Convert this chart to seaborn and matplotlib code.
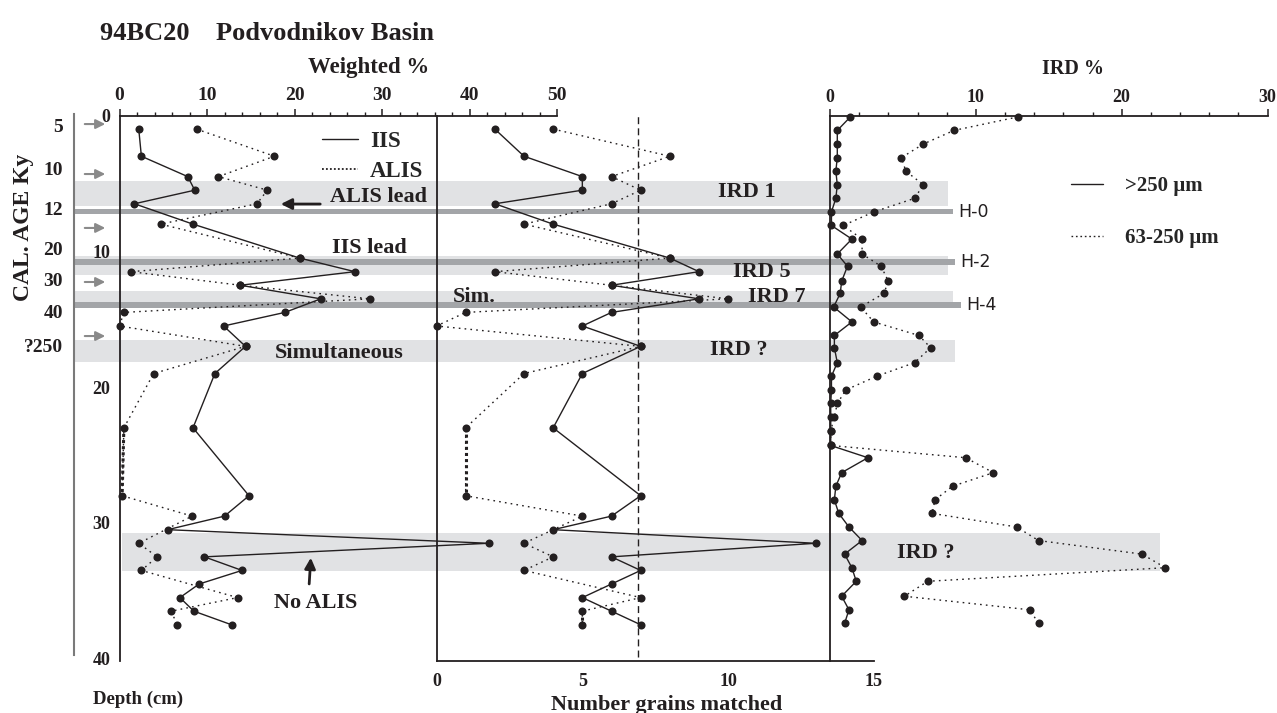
import numpy as np
import pandas as pd
import seaborn as sns
import matplotlib.pyplot as plt
from matplotlib.lines import Line2D
from matplotlib.ticker import MultipleLocator, FixedLocator, NullFormatter

sns.set_style('white')
plt.rcParams['font.family'] = ['Liberation Serif', 'DejaVu Serif']
plt.rcParams['font.weight'] = 'bold'

# ---- data ----
# weighted % and grain-count samples (depth in cm)
wt_depth = [1, 3, 4.5, 5.5, 6.5, 8, 10.5, 11.5, 12.5, 13.5, 14.5, 15.5, 17, 19,
            23, 28, 29.5, 30.5, 31.5, 32.5, 33.5, 34.5, 35.5, 36.5, 37.5]
wt_iis = [2.2, 2.5, 7.8, 8.6, 1.7, 8.4, 20.6, 26.9, 13.8, 23.0, 18.9, 11.9, 14.4, 10.9,
          8.4, 14.8, 12.0, 5.5, 42.2, 9.7, 14.0, 9.1, 6.9, 8.5, 12.8]
wt_alis = [8.8, 17.7, 11.3, 16.9, 15.7, 4.7, 20.6, 1.3, 13.8, 28.6, 0.5, 0.0, 14.4, 3.9,
           0.5, 0.3, 8.3, np.nan, 2.2, 4.3, 2.5, np.nan, 13.5, 5.9, 6.6]
grains_iis = [2, 3, 5, 5, 2, 4, 8, 9, 6, 9, 6, 5, 7, 5, 4, 7, 6, 4, 13, 6, 7, 6, 5, 6, 7]
grains_alis = [4, 8, 6, 7, 6, 3, 8, 2, 6, 10, 1, 0, 7, 3, 1, 1, 5, np.nan, 3, 4, 3, np.nan, 7, 5, 5]
grain_cutoff = 6.9

# IRD samples
ird_depth = [0.1, 1.1, 2.1, 3.1, 4.1, 5.1, 6.1, 7.1, 8.1, 9.1, 10.2, 11.1, 12.2, 13.1,
             14.1, 15.2, 16.2, 17.1, 18.2, 19.2, 20.2, 21.2, 22.2, 23.2, 24.3, 25.2,
             26.3, 27.3, 28.3, 29.3, 30.3, 31.3, 32.3, 33.3, 34.3, 35.4, 36.4, 37.4]
ird_coarse = [1.4, 0.5, 0.5, 0.5, 0.4, 0.5, 0.4, 0.1, 0.1, 1.5, 0.5, 1.2, 0.8, 0.7,
              0.25, 1.5, 0.3, 0.3, 0.5, 0.1, 0.1, 0.05, 0.05, 0.05, 0.05, 2.6,
              0.8, 0.4, 0.3, 0.6, 1.3, 2.2, 1.0, 1.5, 1.8, 0.8, 1.3, 1.0]
ird_fine = [12.9, 8.5, 6.4, 4.9, 5.2, 6.4, 5.8, 3.0, 0.9, 2.2, 2.2, 3.5, 4.0, 3.7,
            2.1, 3.0, 6.1, 6.9, 5.8, 3.2, 1.1, 0.5, 0.3, 0.05, 0.05, 9.3,
            11.2, 8.4, 7.2, 7.0, 12.8, 14.3, 21.4, 23.0, 6.7, 5.1, 13.7, 14.3]

# calendar age scale
age_labels = ['5', '10', '12', '20', '30', '40', '?250']
age_depth = [0.7, 3.89, 6.83, 9.83, 12.11, 14.4, 16.95]
age_minor = [1.24, 1.8, 2.42, 2.96, 4.82, 7.94, 8.19, 8.43, 8.63, 8.8,
             11.02, 13.34, 15.55, 17.99, 19.03]
arrow_depth = [0.63, 4.31, 8.28, 12.26, 16.24]

# IRD / Heinrich intervals (depth cm)
band_top = [4.82, 10.35, 12.96, 16.53, 30.74]
band_bot = [6.64, 11.78, 14.08, 18.13, 33.52]
h_names = ['H-0', 'H-2', 'H-4']
h_depth = [7.08, 10.77, 13.98]

# ---- layout (pixels) ----
W, H = 1277, 713
ink = '#231f20'
y_top, y_bot = 115.5, 661
depth_max = (y_bot - y_top) / 13.58
bottom = 1 - y_bot / H
height = (y_bot - y_top) / H
band_left = [73, 73, 73, 73, 122]
band_right = [948, 948, 953, 955, 1160]
h_right = [953, 955, 961]

fig = plt.figure(figsize=(W / 100, H / 100), dpi=100)

# background axes in pixel x / depth y: bands, age scale, notes
ax_bg = fig.add_axes([0, bottom, 1, height])
ax_bg.set_xlim(0, W)
ax_bg.set_ylim(depth_max, 0)
top_arr, bot_arr = np.array(band_top), np.array(band_bot)
ax_bg.barh((top_arr + bot_arr) / 2, np.array(band_right) - np.array(band_left),
           left=band_left, height=bot_arr - top_arr, color='#e1e2e4', lw=0)
ax_bg.barh(h_depth, np.array(h_right) - 73, left=73, height=0.42, color='#a3a5a8', lw=0)
for nm, d, r in zip(h_names, h_depth, h_right):
    ax_bg.text(r + 5, d, nm, family='DejaVu Sans', weight='normal', fontsize=12.5,
               color=ink, va='center', ha='left')

for s in ['top', 'right', 'bottom']:
    ax_bg.spines[s].set_visible(False)
ax_bg.spines['left'].set_position(('data', 74))
ax_bg.spines['left'].set_bounds(-0.1, 39.7)
ax_bg.spines['left'].set_color('#7a7a7a')
ax_bg.spines['left'].set_linewidth(1.5)
ax_bg.set_xticks([])
ax_bg.set_yticks(age_depth)
ax_bg.set_yticklabels(age_labels)
ax_bg.yaxis.set_minor_locator(FixedLocator(age_minor))
ax_bg.tick_params(axis='y', which='major', direction='in', length=6.5, width=1.1,
                  color='#444444', labelsize=14, labelcolor=ink, pad=8)
ax_bg.tick_params(axis='y', which='minor', direction='in', length=3.5, width=1.0,
                  color='#444444')
for d in arrow_depth:
    ax_bg.annotate('', xy=(108, d), xytext=(82, d),
                   arrowprops=dict(arrowstyle='-|>', color='#8a8a8a', lw=1.5, mutation_scale=14))

notes = [('ALIS lead', 330, 5.98), ('IIS lead', 332, 9.78), ('Simultaneous', 275, 17.51),
         ('Sim.', 453, 13.39), ('IRD 1', 718, 5.66), ('IRD 5', 733, 11.5),
         ('IRD 7', 748, 13.39), ('IRD ?', 710, 17.27), ('IRD ?', 897, 32.24),
         ('No ALIS', 274, 35.92)]
for txt, x, d in notes:
    ax_bg.text(x, d, txt, fontsize=16, color=ink, ha='left', va='center')
ax_bg.annotate('', xy=(278, 6.52), xytext=(323, 6.52),
               arrowprops=dict(arrowstyle='-|>', color=ink, lw=2, mutation_scale=16))
ax_bg.annotate('', xy=(311, 32.36), xytext=(309, 34.7),
               arrowprops=dict(arrowstyle='-|>', color=ink, lw=2, mutation_scale=16))


def profile(ax, x, y, dotted):
    df = pd.DataFrame({'val': x, 'depth': y}).dropna()
    ls = (0, (1.2, 3)) if dotted else '-'
    sns.lineplot(data=df, x='val', y='depth', sort=False, estimator=None, ax=ax,
                 color=ink, lw=1, linestyle=ls, marker='o', markersize=5.8,
                 markeredgewidth=0, clip_on=False)
    ax.set_xlabel('')
    ax.set_ylabel('')


def frame(ax, xmax, shown):
    ax.set_facecolor('none')
    ax.set_xlim(0, xmax)
    ax.set_ylim(depth_max, 0)
    for s in ['top', 'right', 'bottom', 'left']:
        ax.spines[s].set_visible(s in shown)
        ax.spines[s].set_color(ink)
        ax.spines[s].set_linewidth(1.3)


# IRD %
ax_i = fig.add_axes([830 / W, bottom, 437.5 / W, height])
profile(ax_i, ird_coarse, ird_depth, False)
profile(ax_i, ird_fine, ird_depth, True)
frame(ax_i, 30, ['left', 'top'])
ax_i.xaxis.set_ticks_position('top')
ax_i.xaxis.set_major_locator(MultipleLocator(10))
ax_i.xaxis.set_minor_locator(MultipleLocator(2))
ax_i.yaxis.set_major_locator(MultipleLocator(5))
ax_i.yaxis.set_minor_locator(MultipleLocator(1))
ax_i.yaxis.set_major_formatter(NullFormatter())
ax_i.tick_params(axis='x', which='major', length=5, width=1.1, labelsize=13, pad=2, colors=ink)
ax_i.tick_params(axis='x', which='minor', length=3, width=1.0, colors=ink)
ax_i.tick_params(axis='y', which='both', length=5.5, width=1.0, colors=ink)
ax_i.legend([Line2D([], [], color=ink, lw=1), Line2D([], [], color=ink, lw=1, ls=(0, (1.2, 2)))],
            ['>250 µm', '63-250 µm'], loc='upper left', bbox_to_anchor=(1071 / W, 1 - 176 / H),
            bbox_transform=fig.transFigure, frameon=False, fontsize=15, handlelength=1.55,
            handletextpad=1.05, labelspacing=1.55, borderpad=0, borderaxespad=0)

# number of grains matched
ax_n = fig.add_axes([436.5 / W, bottom, 437.5 / W, height])
ax_n.axvline(grain_cutoff, ymin=0.008, ymax=1, color=ink, lw=1, ls=(0, (5, 3)))
profile(ax_n, grains_iis, wt_depth, False)
profile(ax_n, grains_alis, wt_depth, True)
ax_n.plot(grains_alis[14:16], wt_depth[14:16], color=ink, lw=2.2, ls=(0, (1, 1)))
ax_n.plot(grains_alis[23:25], wt_depth[23:25], color=ink, lw=2.2, ls=(0, (1, 1)))
frame(ax_n, 15, ['left', 'bottom'])
ax_n.xaxis.set_major_locator(MultipleLocator(5))
ax_n.xaxis.set_minor_locator(MultipleLocator(1))
ax_n.yaxis.set_major_locator(MultipleLocator(5))
ax_n.yaxis.set_minor_locator(MultipleLocator(1))
ax_n.yaxis.set_major_formatter(NullFormatter())
ax_n.tick_params(axis='x', which='major', length=5, width=1.1, labelsize=13, pad=4, colors=ink)
ax_n.tick_params(axis='x', which='minor', length=3.5, width=1.0, colors=ink)
ax_n.tick_params(axis='y', which='major', length=6, width=1.1, colors=ink)
ax_n.tick_params(axis='y', which='minor', length=4.5, width=1.0, colors=ink)

# weighted %
ax_w = fig.add_axes([119.5 / W, bottom, 437.5 / W, height])
profile(ax_w, wt_iis, wt_depth, False)
profile(ax_w, wt_alis, wt_depth, True)
ax_w.plot(wt_alis[14:16], wt_depth[14:16], color=ink, lw=2.2, ls=(0, (1, 1)))
frame(ax_w, 50, ['left', 'top'])
ax_w.xaxis.set_ticks_position('top')
ax_w.xaxis.set_major_locator(MultipleLocator(10))
ax_w.xaxis.set_minor_locator(MultipleLocator(2))
ax_w.yaxis.set_major_locator(MultipleLocator(10))
ax_w.yaxis.set_minor_locator(MultipleLocator(1))
ax_w.tick_params(axis='x', which='major', length=5, width=1.1, labelsize=14, pad=3, colors=ink)
ax_w.tick_params(axis='x', which='minor', length=3, width=1.0, colors=ink)
ax_w.tick_params(axis='y', which='major', length=4.5, width=1.1, labelsize=13, pad=2, colors=ink)
ax_w.tick_params(axis='y', which='minor', length=3, width=1.0, colors=ink)
ax_w.legend([Line2D([], [], color=ink, lw=1), Line2D([], [], color=ink, lw=1.3, ls=(0, (1, 1.2)))],
            ['IIS', 'ALIS'], loc='upper left', bbox_to_anchor=(322 / W, 1 - 131 / H),
            bbox_transform=fig.transFigure, frameon=False, fontsize=16.5, handlelength=1.55,
            handletextpad=0.55, labelspacing=0.38, borderpad=0, borderaxespad=0)

# titles and axis names
fig.text(100 / W, 1 - 33 / H, '94BC20    Podvodnikov Basin', fontsize=19, color=ink,
         ha='left', va='center')
fig.text(369 / W, 1 - 68 / H, 'Weighted %', fontsize=16.5, color=ink, ha='center', va='center')
fig.text(1073 / W, 1 - 69 / H, 'IRD %', fontsize=14.5, color=ink, ha='center', va='center')
fig.text(138 / W, 1 - 699 / H, 'Depth (cm)', fontsize=13.5, color=ink, ha='center', va='center')
fig.text(667 / W, 1 - 705 / H, 'Number grains matched', fontsize=16, color=ink,
         ha='center', va='center')
fig.text(24 / W, 1 - 227 / H, 'CAL. AGE Ky', fontsize=17, color=ink, rotation=90,
         ha='center', va='center')

fig.savefig('out.png', dpi=100, facecolor='white')
